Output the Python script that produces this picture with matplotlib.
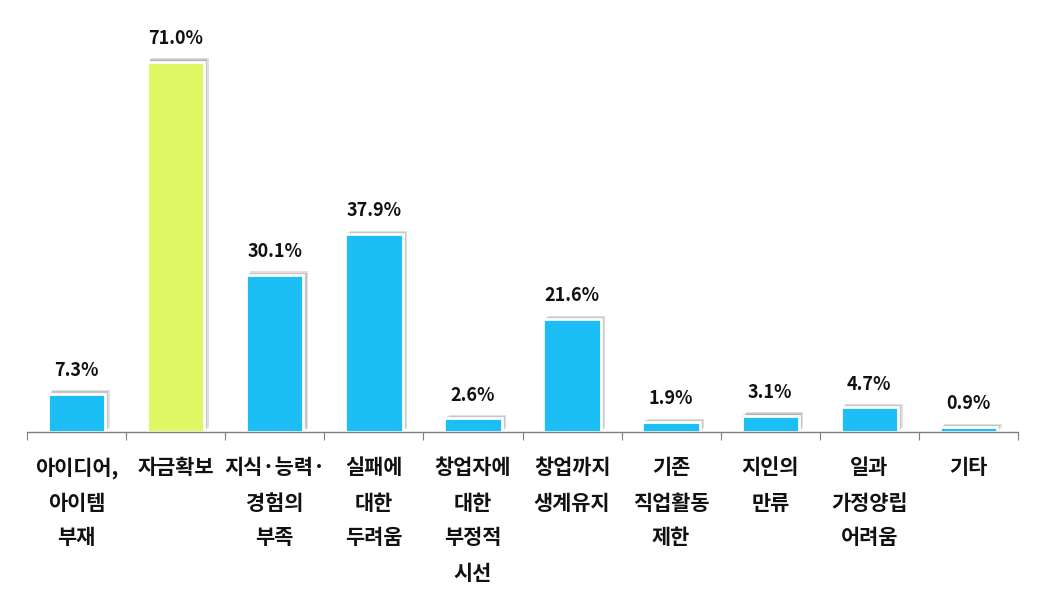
import matplotlib.pyplot as plt
import matplotlib.patheffects as pe
from matplotlib.transforms import blended_transform_factory

plt.rcParams['font.family'] = ['Noto Sans CJK KR', 'DejaVu Sans']

# 창업 애로사항 (%)
categories = [
    ['아이디어,', '아이템', '부재'],
    ['자금확보'],
    ['지식·능력·', '경험의', '부족'],
    ['실패에', '대한', '두려움'],
    ['창업자에', '대한', '부정적', '시선'],
    ['창업까지', '생계유지'],
    ['기존', '직업활동', '제한'],
    ['지인의', '만류'],
    ['일과', '가정양립', '어려움'],
    ['기타'],
]
values = [7.3, 71.0, 30.1, 37.9, 2.6, 21.6, 1.9, 3.1, 4.7, 0.9]
highlight = 1

blue = '#1bbef5'
green = '#dff763'

fig = plt.figure(figsize=(10.44, 5.93), dpi=100)
ax = fig.add_axes([27 / 1044, 1 - 432 / 593, 991 / 1044, 412 / 593])

x = list(range(len(values)))
colors = [green if i == highlight else blue for i in x]
bars = ax.bar(x, values, width=0.58, color=colors, edgecolor='white', linewidth=2)
# 부드러운 그림자 (여러 겹)
shadow = [pe.SimplePatchShadow(offset=(o, o * 0.8), shadow_rgbFace='#707070', alpha=0.22)
          for o in (1.2, 2.2, 3.2)]
for b in bars:
    b.set_path_effects(shadow + [pe.Normal()])

for i, v in enumerate(values):
    ax.annotate(f'{v:.1f}%', (i, v), xytext=(0, 10), textcoords='offset points',
                ha='center', va='bottom', fontsize=13, fontweight='bold', color='#111111')

ax.set_xlim(-0.5, len(values) - 0.5)
ax.set_ylim(0, 79)
ax.set_yticks([])
for s in ['top', 'right', 'left']:
    ax.spines[s].set_visible(False)
ax.spines['bottom'].set_color('#7f7f7f')
ax.spines['bottom'].set_linewidth(1)

ax.set_xticks([i - 0.5 for i in range(len(values) + 1)])
ax.set_xticklabels([])
ax.tick_params(axis='x', direction='out', length=6, color='#7f7f7f')

trans = blended_transform_factory(ax.transData, ax.transAxes)
for i, lines in enumerate(categories):
    for j, line in enumerate(lines):
        ax.annotate(line, (i, 0), xycoords=trans, xytext=(0, -36 - 35 * j),
                    textcoords='offset pixels', ha='center', va='center',
                    fontsize=15, fontweight='bold', color='#111111')

fig.savefig('out.png', dpi=100)
